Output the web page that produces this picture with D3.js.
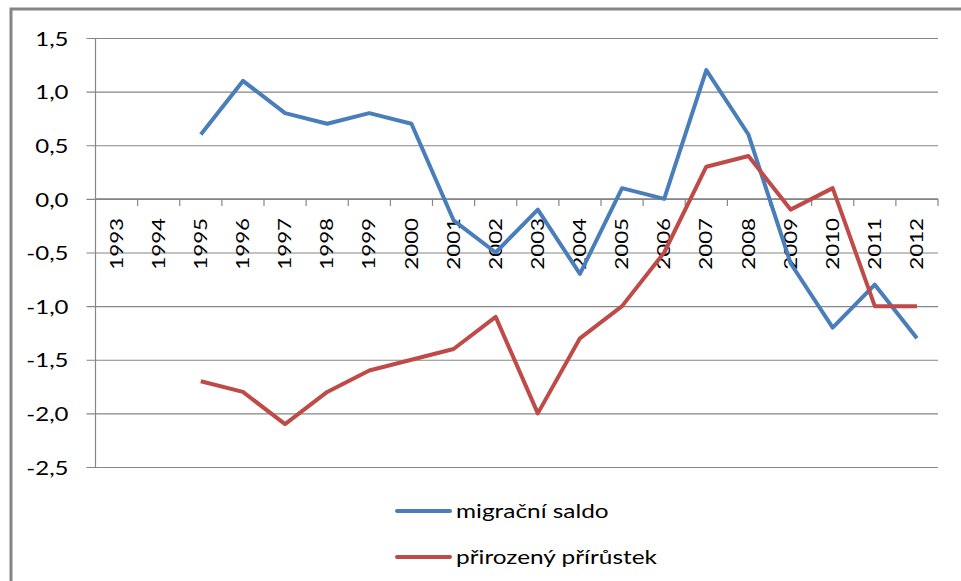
<!DOCTYPE html>
<html>
<head>
<meta charset="utf-8">
<script src="https://cdn.jsdelivr.net/npm/d3@7"></script>
<style>
  body { margin: 0; background: #fff; }
  text { font-family: Lato, "Open Sans", sans-serif; fill: #000; }
</style>
</head>
<body>
<div id="chart"></div>
<script>
var width = 961;
var height = 581;

var years = ["1993", "1994", "1995", "1996", "1997", "1998", "1999", "2000", "2001", "2002",
             "2003", "2004", "2005", "2006", "2007", "2008", "2009", "2010", "2011", "2012"];
var migracniSaldo = [null, null, 0.6, 1.1, 0.8, 0.7, 0.8, 0.7, -0.2, -0.5,
                     -0.1, -0.7, 0.1, 0.0, 1.2, 0.6, -0.6, -1.2, -0.8, -1.3];
var prirozenyPrirustek = [null, null, -1.7, -1.8, -2.1, -1.8, -1.6, -1.5, -1.4, -1.1,
                          -2.0, -1.3, -1.0, -0.5, 0.3, 0.4, -0.1, 0.1, -1.0, -1.0];
var yTicks = [1.5, 1.0, 0.5, 0.0, -0.5, -1.0, -1.5, -2.0, -2.5];
var seriesNames = ["migrační saldo", "přirozený přírůstek"];
var seriesColors = ["#4A7EBB", "#BE4B48"];

var plotLeft = 95.5, plotRight = 938, plotTop = 38, plotBottom = 467;
var gridColor = "#868686";

var svg = d3.select("#chart")
    .append("svg")
    .attr("width", width)
    .attr("height", height);

// outer chart frame (only top and left are inside the picture)
svg.append("rect")
    .attr("x", 11)
    .attr("y", 9)
    .attr("width", 1200)
    .attr("height", 1200)
    .attr("fill", "none")
    .attr("stroke", gridColor)
    .attr("stroke-width", 3);

var x = d3.scaleBand()
    .domain(years)
    .range([plotLeft, plotRight])
    .padding(0);

var y = d3.scaleLinear()
    .domain([-2.5, 1.5])
    .range([plotBottom, plotTop]);

// gridlines + y axis
var yAxis = d3.axisLeft(y)
    .tickValues(yTicks)
    .tickSize(-(plotRight - plotLeft))
    .tickFormat(function(d){ return d3.format(".1f")(d).replace(".", ",").replace("−", "-"); });

var gy = svg.append("g")
    .attr("transform", "translate(" + plotLeft + ",0)")
    .call(yAxis);
gy.select(".domain").remove();
gy.selectAll(".tick line")
    .attr("x1", -9)
    .attr("stroke", gridColor)
    .attr("stroke-width", 1.2);
gy.selectAll(".tick text")
    .attr("x", 0)
    .attr("transform", "translate(-27,0) scale(1.2,1)")
    .attr("dy", "0.36em")
    .style("font-size", "20px")
    .style("font-family", "Lato, sans-serif")
    .attr("fill", "#000");

// vertical axis line
svg.append("line")
    .attr("x1", plotLeft).attr("x2", plotLeft)
    .attr("y1", plotTop).attr("y2", plotBottom)
    .attr("stroke", gridColor)
    .attr("stroke-width", 1.2);

// category axis at zero
var y0 = y(0);
svg.append("line")
    .attr("x1", plotLeft).attr("x2", plotRight)
    .attr("y1", y0).attr("y2", y0)
    .attr("stroke", gridColor)
    .attr("stroke-width", 1.2);

var boundaries = years.map(function(d){ return x(d); }).concat([plotRight]);
svg.selectAll("line.xtick")
    .data(boundaries.slice(1))
    .enter()
    .append("line")
    .attr("class", "xtick")
    .attr("x1", function(d){ return d; })
    .attr("x2", function(d){ return d; })
    .attr("y1", y0)
    .attr("y2", y0 + 7)
    .attr("stroke", gridColor)
    .attr("stroke-width", 1.2);

svg.selectAll("text.xlabel")
    .data(years)
    .enter()
    .append("text")
    .attr("class", "xlabel")
    .attr("transform", function(d){
        return "translate(" + (x(d) + x.bandwidth() / 2) + "," + (y0 + 19) + ") rotate(-90) scale(1.12,0.85)";
    })
    .attr("text-anchor", "end")
    .attr("dy", "0.36em")
    .style("font-size", "20px")
    .text(function(d){ return d; });

// series lines
var allSeries = [migracniSaldo, prirozenyPrirustek];
var line = d3.line()
    .defined(function(d){ return d != null; })
    .x(function(d, i){ return x(years[i]) + x.bandwidth() / 2; })
    .y(function(d){ return y(d); });

svg.selectAll("path.series")
    .data(allSeries)
    .enter()
    .append("path")
    .attr("class", "series")
    .attr("d", line)
    .attr("fill", "none")
    .attr("stroke", function(d, i){ return seriesColors[i]; })
    .attr("stroke-width", 4)
    .attr("stroke-linejoin", "round");

// legend
var legend = svg.selectAll("g.legend")
    .data(seriesNames)
    .enter()
    .append("g")
    .attr("class", "legend")
    .attr("transform", function(d, i){ return "translate(397," + (511 + i * 46) + ")"; });

legend.append("line")
    .attr("x1", 0).attr("x2", 53)
    .attr("y1", 0).attr("y2", 0)
    .attr("stroke", function(d, i){ return seriesColors[i]; })
    .attr("stroke-width", 4)
    .attr("stroke-linecap", "round");

legend.append("text")
    .attr("transform", "translate(59,7) scale(1.22,1)")
    .style("font-size", "20px")
    .text(function(d){ return d; });
</script>
</body>
</html>
